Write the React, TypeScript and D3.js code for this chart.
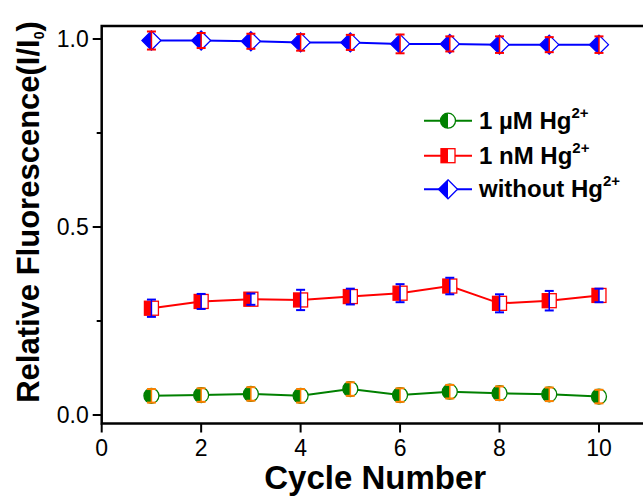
import React, { useEffect, useRef } from "react";
import * as d3 from "d3";

const cycles = [1, 2, 3, 4, 5, 6, 7, 8, 9, 10];
const withoutHg = [0.996, 0.996, 0.994, 0.991, 0.991, 0.987, 0.987, 0.985, 0.985, 0.985];
const withoutHgErr = [0.024, 0.02, 0.02, 0.022, 0.02, 0.025, 0.02, 0.022, 0.02, 0.022];
const nMHg = [0.284, 0.302, 0.308, 0.306, 0.315, 0.324, 0.343, 0.297, 0.304, 0.318];
const nMHgErr = [0.023, 0.02, 0.015, 0.027, 0.021, 0.024, 0.022, 0.024, 0.026, 0.018];
const uMHg = [0.051, 0.053, 0.056, 0.051, 0.069, 0.053, 0.062, 0.058, 0.055, 0.049];
const uMHgErr = [0.018, 0.018, 0.018, 0.018, 0.018, 0.018, 0.018, 0.018, 0.018, 0.018];

const xTicks = [0, 2, 4, 6, 8, 10];
const yTicks = [0, 0.5, 1.0];
const yMinorTicks = [0.25, 0.75];

const legendLabels = ["1 \u00B5M Hg", "1 nM Hg", "without Hg"];

const FONT = "'Liberation Sans', Arial, Helvetica, sans-serif";

const App = () => {
  const svgRef = useRef<SVGSVGElement>(null);

  useEffect(() => {
    const width = 643;
    const height = 498;
    const plot = { left: 101.7, right: 648.7, top: 26, bottom: 423.5 };

    const svg = d3.select(svgRef.current);
    svg.selectAll("*").remove();
    svg.attr("width", width).attr("height", height);

    const x = d3.scaleLinear().domain([0, 11]).range([plot.left, plot.right]);
    const y = d3.scaleLinear().domain([-0.0226, 1.0346]).range([plot.bottom, plot.top]);

    const series = [
      { name: "uM", values: uMHg, err: uMHgErr, color: "#008000", errColor: "#ff8000", shape: "circle" },
      { name: "nM", values: nMHg, err: nMHgErr, color: "#ff0000", errColor: "#0000ff", shape: "square" },
      { name: "none", values: withoutHg, err: withoutHgErr, color: "#0000ff", errColor: "#ff0000", shape: "diamond" },
    ];

    // draws a half-filled marker (left half solid, right half white)
    const drawMarker = (g: any, cx: number, cy: number, shape: string, color: string) => {
      if (shape === "circle") {
        const r = 7.5;
        g.append("circle").attr("cx", cx).attr("cy", cy).attr("r", r)
          .attr("fill", "#fff").attr("stroke", color).attr("stroke-width", 1.3);
        g.append("path")
          .attr("d", `M${cx},${cy - r} A${r},${r} 0 0 0 ${cx},${cy + r} Z`)
          .attr("fill", color);
      } else if (shape === "square") {
        const s = 7;
        g.append("rect").attr("x", cx - s).attr("y", cy - s).attr("width", 2 * s).attr("height", 2 * s)
          .attr("fill", "#fff").attr("stroke", color).attr("stroke-width", 1.3);
        g.append("rect").attr("x", cx - s).attr("y", cy - s).attr("width", s).attr("height", 2 * s)
          .attr("fill", color);
      } else {
        const r = 9.5;
        g.append("path")
          .attr("d", `M${cx},${cy - r} L${cx + r},${cy} L${cx},${cy + r} L${cx - r},${cy} Z`)
          .attr("fill", "#fff").attr("stroke", color).attr("stroke-width", 1.3);
        g.append("path")
          .attr("d", `M${cx},${cy - r} L${cx - r},${cy} L${cx},${cy + r} Z`)
          .attr("fill", color);
      }
    };

    const line = d3.line<number>()
      .x((_, i) => x(cycles[i]))
      .y(d => y(d));

    series.forEach(s => {
      const g = svg.append("g");
      g.append("path")
        .attr("d", line(s.values))
        .attr("fill", "none")
        .attr("stroke", s.color)
        .attr("stroke-width", 2);

      s.values.forEach((v, i) => {
        drawMarker(g, x(cycles[i]), y(v), s.shape, s.color);
      });

      // error bars on top of markers
      s.values.forEach((v, i) => {
        const cx = x(cycles[i]);
        const y1 = y(v + s.err[i]);
        const y2 = y(v - s.err[i]);
        g.append("line").attr("x1", cx).attr("x2", cx).attr("y1", y1).attr("y2", y2)
          .attr("stroke", s.errColor).attr("stroke-width", 1.5);
        [y1, y2].forEach(yy => {
          g.append("line").attr("x1", cx - 4.5).attr("x2", cx + 4.5).attr("y1", yy).attr("y2", yy)
            .attr("stroke", s.errColor).attr("stroke-width", 2);
        });
      });
    });

    // frame
    svg.append("rect")
      .attr("x", plot.left).attr("y", plot.top)
      .attr("width", plot.right - plot.left).attr("height", plot.bottom - plot.top)
      .attr("fill", "none").attr("stroke", "#000").attr("stroke-width", 2.5);

    // y ticks
    yTicks.forEach(t => {
      svg.append("line").attr("x1", plot.left - 9).attr("x2", plot.left)
        .attr("y1", y(t)).attr("y2", y(t)).attr("stroke", "#000").attr("stroke-width", 2);
      svg.append("text")
        .attr("x", plot.left - 13).attr("y", y(t)).attr("dy", "0.36em")
        .attr("text-anchor", "end")
        .style("font-family", FONT).style("font-size", "23px")
        .text(d3.format(".1f")(t));
    });
    yMinorTicks.forEach(t => {
      svg.append("line").attr("x1", plot.left - 5).attr("x2", plot.left)
        .attr("y1", y(t)).attr("y2", y(t)).attr("stroke", "#000").attr("stroke-width", 2);
    });

    // x ticks
    xTicks.forEach(t => {
      svg.append("line").attr("x1", x(t)).attr("x2", x(t))
        .attr("y1", plot.bottom).attr("y2", plot.bottom + 9).attr("stroke", "#000").attr("stroke-width", 2);
      svg.append("text")
        .attr("x", x(t)).attr("y", 456)
        .attr("text-anchor", "middle")
        .style("font-family", FONT).style("font-size", "23px")
        .text(t);
    });

    // axis titles
    svg.append("text")
      .attr("x", (plot.left + 648.7) / 2).attr("y", 489)
      .attr("text-anchor", "middle")
      .style("font-family", FONT).style("font-size", "33px").style("font-weight", "bold")
      .text("Cycle Number");

    const yTitle = svg.append("text")
      .attr("transform", "translate(39,212) rotate(-90)")
      .attr("text-anchor", "middle")
      .style("font-family", FONT).style("font-size", "31px").style("font-weight", "bold");
    yTitle.append("tspan").text("Relative Fluorescence(I/I");
    yTitle.append("tspan").attr("dy", 5).style("font-size", "14px").text("0");
    yTitle.append("tspan").attr("dy", -5).text(")");

    // legend
    const legendRows = [120.7, 155.7, 189.3];
    series.forEach((s, i) => {
      const cy = legendRows[i];
      const g = svg.append("g");
      g.append("line").attr("x1", 424).attr("x2", 472).attr("y1", cy).attr("y2", cy)
        .attr("stroke", s.color).attr("stroke-width", 2);
      drawMarker(g, 448, cy, s.shape, s.color);
      const txt = g.append("text")
        .attr("x", 479).attr("y", cy + 8)
        .style("font-family", FONT).style("font-size", "24px").style("font-weight", "bold");
      txt.append("tspan").text(legendLabels[i]);
      txt.append("tspan").attr("dy", -11).style("font-size", "15px").text("2+");
    });
  }, []);

  return (
    <div style={{ position: "absolute", left: 0, top: 0, width: 643, height: 498, background: "#fff" }}>
      <svg ref={svgRef} style={{ display: "block" }}></svg>
    </div>
  );
};

export default App;
